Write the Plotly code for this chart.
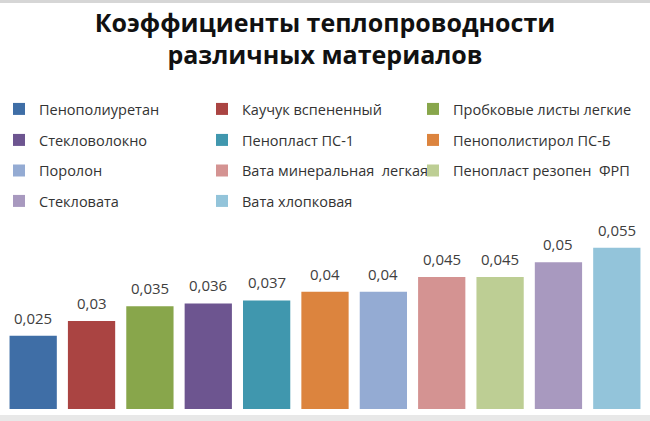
import plotly.graph_objects as go

materials = [
    "Пенополиуретан", "Каучук вспененный", "Пробковые листы легкие",
    "Стекловолокно", "Пенопласт ПС-1", "Пенополистирол ПС-Б",
    "Поролон", "Вата минеральная  легкая", "Пенопласт резопен  ФРП",
    "Стекловата", "Вата хлопковая",
]
conductivity = [0.025, 0.03, 0.035, 0.036, 0.037, 0.04, 0.04, 0.045, 0.045, 0.05, 0.055]
colors = ["#3F6EA6", "#AA4442", "#88A64B", "#6D5590", "#4097AE", "#DC843E",
          "#94ABD3", "#D49392", "#BDCE94", "#A899BF", "#93C4DA"]

W, H = 650, 421
ML, MR, MT, MB = 4, 4, 233, 12
PH = H - MT - MB


def py(pix):
    """pixel y (from top) -> paper y"""
    return (H - MB - pix) / PH


def px(pix):
    return (pix - ML) / (W - ML - MR)


# legend grid: 3 columns, rows top to bottom (pixel positions)
col_left = [-1, 202, 413]
row_centers = [109, 140, 170.5, 201]
leg_font = dict(family="Open Sans", size=14.5, color="#333333")

fig = go.Figure()
legends = {}
for i, (m, v, c) in enumerate(zip(materials, conductivity, colors)):
    lname = "legend" if i == 0 else f"legend{i + 1}"
    fig.add_trace(go.Bar(
        x=[m], y=[v], name=m, marker=dict(color=c, line=dict(width=0)),
        legend=lname, showlegend=True, hoverinfo="x+y",
    ))
    legends[lname] = dict(
        orientation="v", x=px(col_left[i % 3]), xanchor="left",
        y=py(row_centers[i // 3]), yanchor="middle",
        font=leg_font, bgcolor="rgba(0,0,0,0)",
    )

for m, v in zip(materials, conductivity):
    fig.add_annotation(
        x=m, y=v, text=str(v).replace(".", ","), showarrow=False,
        yanchor="bottom", yshift=6,
        font=dict(family="Open Sans", size=15, color="#404040"),
    )

fig.update_layout(
    width=W, height=H,
    margin=dict(l=ML, r=MR, t=MT, b=MB, autoexpand=False),
    paper_bgcolor="white", plot_bgcolor="white",
    showlegend=True,
    barmode="overlay", bargap=0.19,
    title=dict(
        text="Коэффициенты теплопроводности<br>различных материалов",
        x=0.5, xanchor="center", y=0.925, yanchor="top",
        font=dict(family="Open Sans", size=25, color="#111111", weight="bold"),
    ),
    xaxis=dict(showticklabels=False, showgrid=False, zeroline=False, showline=False,
               categoryorder="array", categoryarray=materials, fixedrange=True,
               range=[-0.5, len(materials) - 0.5]),
    yaxis=dict(range=[0, 0.06], showticklabels=False, showgrid=False, zeroline=False,
               showline=False, fixedrange=True),
    shapes=[
        dict(type="rect", xref="paper", yref="paper", x0=px(0), x1=px(W), y0=py(415), y1=py(H + 1),
             fillcolor="#e8e8e8", line=dict(width=0), layer="below"),
        dict(type="rect", xref="paper", yref="paper", x0=px(0), x1=px(W), y0=py(3), y1=py(-1),
             fillcolor="#d6d6d6", line=dict(width=0), layer="below"),
    ],
    **legends,
)

fig.write_html("out.html")
